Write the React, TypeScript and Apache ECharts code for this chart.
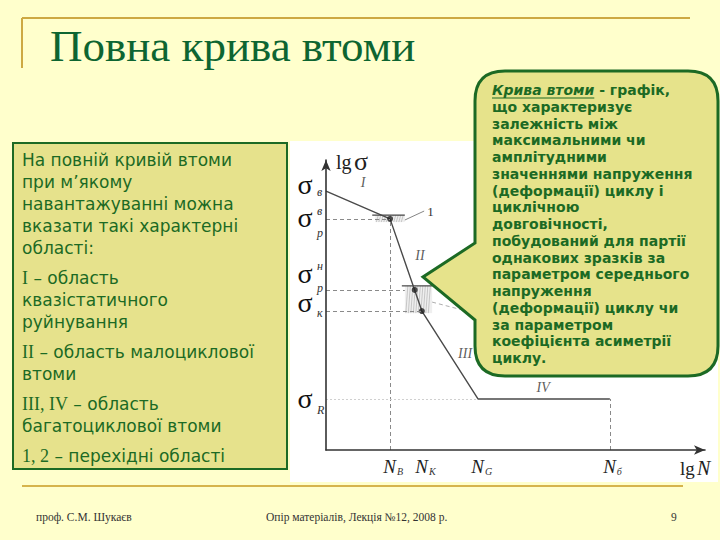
import React, { useEffect, useRef } from 'react';
import * as echarts from 'echarts';

// ---- Data (relative log units along each axis: x = lg N, y = lg σ, axis length = 100) ----
const curveX = [0, 16.9, 25.3, 40.1, 74.9];
const curveY = [89.3, 79.7, 47.9, 17.6, 17.6];
// marked points: transition zone 1, upper and lower points of zone 2
const dotX = [16.9, 23.4, 25.3];
const dotY = [79.7, 55.2, 47.9];
// y tick levels: σв, σр^в, σр^н, σк, σR
const yTickValues = [89.3, 79.7, 55.2, 47.9, 17.6];
const yTickSup = ['', 'в', 'н', '', ''];
const yTickSub = ['в', 'р', 'р', 'к', 'R'];
// x tick positions: N_B, N_K, N_G, N_б
const xTickValues = [16.9, 25.3, 40.1, 74.9];
const xTickSub = ['B', 'K', 'G', 'б'];
// transition zones (hatched): [x1, yTop, x2, yBottom]
const zone1 = [13.0, 81.0, 20.8, 78.6];
const zone2 = [20.8, 56.6, 28.0, 47.2];
// region labels
const regionNames = ['I', 'II', 'III', 'IV'];
const regionX = [9.8, 24.8, 36.7, 57.3];
const regionY = [92.4, 67.2, 33.4, 21.7];

// ---- Texts ----
const titleText = 'Повна крива втоми';
const leftParagraphs = [
  ['На повній кривій втоми', 'при м’якому', 'навантажуванні можна', 'вказати такі характерні', 'області:'],
  ['{r|I} – область', 'квазістатичного', 'руйнування'],
  ['{r|II} – область малоциклової', 'втоми'],
  ['{r|III, IV} – область', 'багатоциклової втоми'],
  ['{r|1, 2} – перехідні області'],
];
const calloutHead = 'Крива втоми';
const calloutHeadRest = ' - графік,';
const calloutLines = [
  'що характеризує', 'залежність між', 'максимальними чи', 'амплітудними',
  'значеннями напруження', '(деформації) циклу і', 'циклічною', 'довговічності,',
  'побудований для партії', 'однакових зразків за', 'параметром середнього',
  'напруження', '(деформації) циклу чи', 'за параметром', 'коефіцієнта асиметрії', 'циклу.',
];
const footerLeft = 'проф. С.М. Шукаєв';
const footerMid = 'Опір матеріалів, Лекція №12, 2008 р.';
const footerPage = '9';

const SERIF = '"Liberation Serif", "Times New Roman", serif';
const SANS = '"DejaVu Sans", Verdana, sans-serif';
const GREEN = '#1c6a24';

let shapeDone = false;
function ensureShape() {
  if (shapeDone) return;
  const d =
    'M505,71 L688,71 Q718,71 718,101 L718,346 Q718,376 688,376 L505,376 Q475,376 475,346 L475,320 L423,277 L475,243 L475,101 Q475,71 505,71 Z';
  echarts.graphic.registerShape('calloutBox', echarts.graphic.extendPath(d, {}));
  shapeDone = true;
}

function measure(text: string, font: string) {
  const c = document.createElement('canvas').getContext('2d')!;
  c.font = font;
  return c.measureText(text).width;
}

function txt(x: number, y: number, text: string, font: string, fill: string, align = 'left', z = 10, extra: any = {}) {
  return {
    type: 'text',
    x,
    y,
    z,
    silent: true,
    style: { text, font, fill, align, textAlign: align, verticalAlign: 'middle', textVerticalAlign: 'middle', ...extra },
  };
}

export default function App() {
  const ref = useRef<HTMLDivElement>(null);
  useEffect(() => {
    document.body.style.margin = '0';
    ensureShape();
    const chart = echarts.init(ref.current!, null, { renderer: 'svg' });

    const guideStyle = { color: '#8a8a8a', type: [4, 3], width: 1 };
    const guides = [
      [[0, dotY[0]], [dotX[0], dotY[0]]],
      [[dotX[0], 0], [dotX[0], dotY[0]]],
      [[0, dotY[1]], [zone2[0], dotY[1]]],
      [[0, dotY[2]], [dotX[2], dotY[2]]],
      [[0, curveY[3]], [curveX[3], curveY[3]]],
      [[curveX[4], 0], [curveX[4], curveY[4]]],
    ];

    const axisCommon = {
      type: 'value',
      min: 0,
      max: 100,
      z: 5,
      axisLine: { show: true, symbol: ['none', 'arrow'], symbolSize: [7, 11], lineStyle: { color: '#333', width: 1.6 } },
      axisTick: { show: false },
      axisLabel: { show: false },
      splitLine: { show: false },
    };

    chart.setOption({
      animation: false,
      backgroundColor: '#ffffcc',
      grid: { left: 326, right: 15, top: 160, bottom: 90 },
      xAxis: { ...axisCommon },
      yAxis: { ...axisCommon },
      series: [
        {
          type: 'custom',
          silent: true,
          z: 2,
          data: [zone1, zone2],
          renderItem: (params: any, api: any) => {
            const p1 = api.coord([api.value(0), api.value(1)]);
            const p2 = api.coord([api.value(2), api.value(3)]);
            const children: any[] = [
              { type: 'rect', shape: { x: p1[0], y: p1[1], width: p2[0] - p1[0], height: p2[1] - p1[1] }, style: { fill: '#efefef' } },
            ];
            for (let x = p1[0] + 1; x <= p2[0] - 3; x += 2.5) {
              children.push({ type: 'line', shape: { x1: x, y1: p2[1], x2: x + 2, y2: p1[1] }, style: { stroke: '#b4b4b4', lineWidth: 0.7 } });
            }
            children.push({ type: 'line', shape: { x1: p1[0] - 3, y1: p1[1], x2: p2[0], y2: p1[1] }, style: { stroke: '#444', lineWidth: 1.2 } });
            return { type: 'group', children };
          },
        },
        {
          type: 'line',
          z: 3,
          data: curveX.map((x, i) => [x, curveY[i]]),
          showSymbol: false,
          silent: true,
          lineStyle: { color: '#4a4a4a', width: 1.4 },
          markLine: {
            silent: true,
            symbol: ['none', 'none'],
            label: { show: false },
            lineStyle: guideStyle,
            data: guides.map((g, i) => [
              i === 4 ? { coord: g[0], lineStyle: { color: '#d0d0d0', type: [2, 2], width: 1 } } : { coord: g[0] },
              { coord: g[1] },
            ]),
          },
        },
        {
          type: 'scatter',
          z: 4,
          silent: true,
          symbolSize: 6,
          itemStyle: { color: '#222' },
          data: dotX.map((x, i) => [x, dotY[i]]),
        },
        {
          type: 'scatter',
          z: 4,
          silent: true,
          symbolSize: 1,
          itemStyle: { color: 'rgba(0,0,0,0)' },
          label: {
            show: true,
            position: 'inside',
            formatter: (p: any) => p.name,
            fontFamily: SERIF,
            fontStyle: 'italic',
            fontSize: 14,
            color: '#333',
          },
          data: regionNames.map((n, i) => ({ name: n, value: [regionX[i], regionY[i]] })),
        },
      ],
    });

    const P = (x: number, y: number) => chart.convertToPixel({ gridIndex: 0 }, [x, y]) as number[];

    const g: any[] = [];
    // slide frame
    g.push({ type: 'line', z: 1, shape: { x1: 22, y1: 18, x2: 690, y2: 18 }, style: { stroke: '#cda943', lineWidth: 2 } });
    g.push({ type: 'line', z: 1, shape: { x1: 22, y1: 18, x2: 22, y2: 68 }, style: { stroke: '#cda943', lineWidth: 2 } });
    g.push({ type: 'line', z: 1, shape: { x1: 22, y1: 486, x2: 683, y2: 486 }, style: { stroke: '#d6b44c', lineWidth: 2 } });
    g.push(txt(50, 46, titleText, `45px ${SERIF}`, '#0d6531'));
    // chart background
    g.push({ type: 'rect', z: 0, shape: { x: 290, y: 141, width: 428, height: 341 }, style: { fill: '#ffffff' } });
    // left box
    g.push({ type: 'rect', z: 1, shape: { x: 13, y: 143, width: 274, height: 326 }, style: { fill: '#e6e28c', stroke: GREEN, lineWidth: 2 } });
    let ly = 160;
    leftParagraphs.forEach((para, pi) => {
      if (pi > 0) ly += 8;
      para.forEach((line) => {
        g.push(
          txt(22, ly, line, `17px ${SANS}`, GREEN, 'left', 10, {
            rich: { r: { fontFamily: SERIF, fontSize: 18, fill: GREEN, color: GREEN } },
          })
        );
        ly += 22;
      });
    });
    // footer
    g.push(txt(36, 517, footerLeft, `11.5px ${SERIF}`, '#333'));
    g.push(txt(266, 517, footerMid, `11.5px ${SERIF}`, '#333'));
    g.push(txt(671, 517, footerPage, `11.5px ${SERIF}`, '#333'));

    // y-axis labels
    const ySigmaDy = [-4, 2, -13, -6, 3];
    const ySupDy = [0, -8, -24, 0, 0];
    const ySubDy = [1, 14, -2, 2, 11];
    yTickValues.forEach((v, i) => {
      const p = P(0, v);
      g.push(txt(p[0] - 21, p[1] + ySigmaDy[i] - 3, 'σ', `28px ${SERIF}`, '#111', 'center'));
      if (yTickSup[i]) g.push(txt(p[0] - 9, p[1] + ySupDy[i], yTickSup[i], `italic 12px ${SERIF}`, '#333'));
      if (yTickSub[i]) g.push(txt(p[0] - 9, p[1] + ySubDy[i], yTickSub[i], `italic 12px ${SERIF}`, '#333'));
    });
    // x-axis labels
    xTickValues.forEach((v, i) => {
      const p = P(v, 0);
      g.push(txt(p[0] + 6, p[1] + 16, 'N', `italic 19px ${SERIF}`, '#222', 'right'));
      g.push(txt(p[0] + 7, p[1] + 21, xTickSub[i], `italic 10px ${SERIF}`, '#333'));
    });
    const o = P(0, 0);
    const top = P(0, 100);
    const right = P(100, 0);
    g.push(txt(o[0] + 10, top[1] + 2, 'lg', `20px ${SERIF}`, '#222'));
    g.push(txt(o[0] + 28, top[1] + 1, 'σ', `26px ${SERIF}`, '#222'));
    g.push(txt(right[0] - 25, o[1] + 18, 'lg', `19px ${SERIF}`, '#222'));
    g.push(txt(right[0] - 8, o[1] + 18, 'N', `italic 20px ${SERIF}`, '#222'));

    // transition marker labels
    const l1a = P(zone1[2], 79.3);
    const l1b = P(25.9, 82.4);
    g.push({ type: 'line', z: 6, shape: { x1: l1a[0], y1: l1a[1], x2: l1b[0], y2: l1b[1] }, style: { stroke: '#666', lineWidth: 0.8 } });
    g.push(txt(l1b[0] + 3, l1b[1], '1', `13px ${SERIF}`, '#333'));
    const l2a = P(zone2[2], 51.0);
    const l2b = P(38.0, 47.6);
    g.push({ type: 'line', z: 6, shape: { x1: l2a[0], y1: l2a[1], x2: l2b[0], y2: l2b[1] }, style: { stroke: '#999', lineWidth: 0.8, lineDash: [4, 3] } });

    // callout
    g.push({ type: 'calloutBox', x: 0, y: 0, z: 100, silent: true, style: { fill: '#e6e38b', stroke: GREEN, lineWidth: 3 } });
    const headFont = `italic bold 14px ${SANS}`;
    const hw = measure(calloutHead, headFont);
    const cx = 492;
    let cy = 90;
    g.push(txt(cx, cy, calloutHead, headFont, GREEN, 'left', 101));
    g.push(txt(cx + hw, cy, calloutHeadRest, `bold 14px ${SANS}`, GREEN, 'left', 101));
    g.push({ type: 'line', z: 101, shape: { x1: cx, y1: cy + 8, x2: cx + hw, y2: cy + 8 }, style: { stroke: GREEN, lineWidth: 1.2 } });
    calloutLines.forEach((line) => {
      cy += 16.75;
      g.push(txt(cx, cy, line, `bold 14px ${SANS}`, GREEN, 'left', 101));
    });

    chart.setOption({ graphic: g });
    return () => chart.dispose();
  }, []);
  return <div ref={ref} style={{ position: 'absolute', left: 0, top: 0, width: 720, height: 540 }} />;
}
